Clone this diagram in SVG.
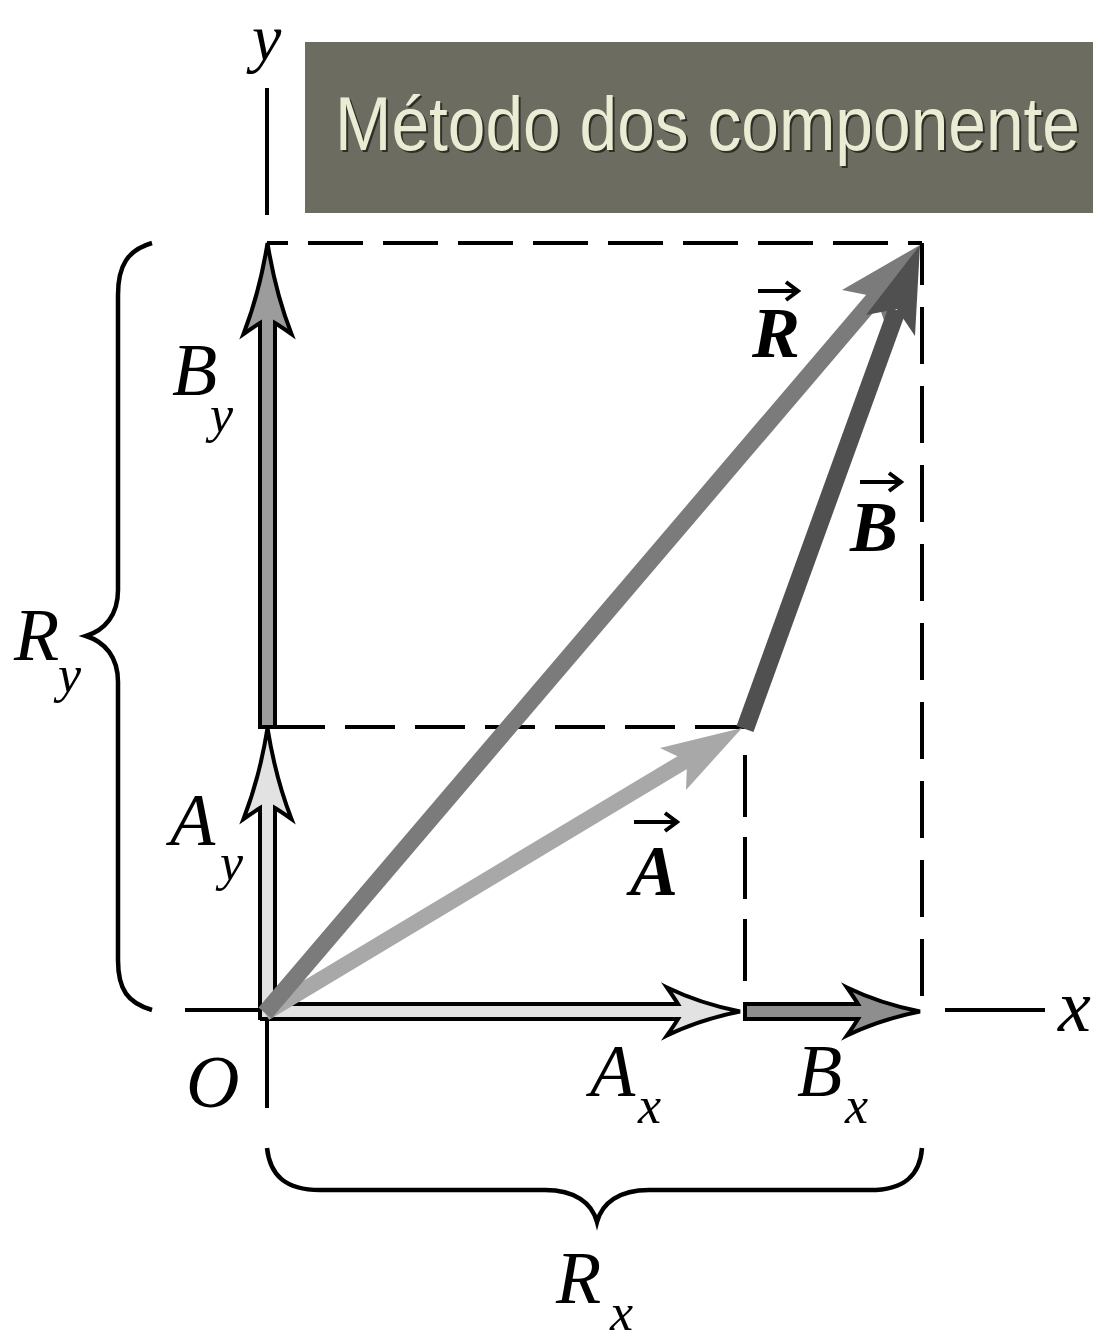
<svg xmlns="http://www.w3.org/2000/svg" width="1093" height="1337" viewBox="0 0 1093 1337">
<style>
.ax{stroke:#000;stroke-width:4;fill:none}
.dash{stroke:#000;stroke-width:4;fill:none}
.comp{stroke:#000;stroke-width:4;stroke-linejoin:miter}
.lbl{font-family:"Liberation Serif","Times New Roman",serif;font-style:italic;fill:#000}
.vl{font-family:"Liberation Serif","Times New Roman",serif;font-style:italic;font-weight:bold;fill:#000}
.brace{stroke:#000;stroke-width:4.5;fill:none}
.varrow{stroke:#000;stroke-width:4;fill:none}
</style>
<rect width="1093" height="1337" fill="#fff"/>

<g id="title">
<rect x="305" y="42" width="788" height="171" fill="#6c6d60"/>
<text x="337" y="152" font-family="'Liberation Sans',Arial,sans-serif" font-size="76" fill="#2e2f28" textLength="745" lengthAdjust="spacingAndGlyphs">Método dos componente</text>
<text x="335" y="150" font-family="'Liberation Sans',Arial,sans-serif" font-size="76" fill="#ecebd4" textLength="745" lengthAdjust="spacingAndGlyphs">Método dos componente</text>
</g>

<g id="connectors">
<line class="ax" x1="267" y1="88" x2="267" y2="215"/>
<line class="ax" x1="267" y1="1020" x2="267" y2="1108"/>
<line class="ax" x1="185" y1="1010" x2="260" y2="1010"/>
<line class="ax" x1="945" y1="1010" x2="1045" y2="1010"/>
<path class="dash" d="M 922 243 L 267 243" stroke-dasharray="55 20" stroke-dashoffset="41"/>
<path class="dash" d="M 922 243 L 922 1008" stroke-dasharray="57 22" stroke-dashoffset="15"/>
<path class="dash" d="M 275 727 L 745 727" stroke-dasharray="50 20"/>
<path class="dash" d="M 745 755 L 745 983" stroke-dasharray="62 20"/>
</g>

<g id="Ay">
<path class="comp" fill="#e2e2e2" transform="translate(267.5,728)" d="M -7.5 292 L -7.5 80 Q -14 84 -24 91 Q -8 50 0 0 Q 8 50 24 91 Q 14 84 7.5 80 L 7.5 275"/>
</g>
<g id="By">
<path class="comp" fill="#9c9c9c" transform="translate(267.5,243)" d="M -7.5 484 L -7.5 80 Q -14 84 -24 91 Q -8 50 0 0 Q 8 50 24 91 Q 14 84 7.5 80 L 7.5 484 Z"/>
</g>
<g id="Ax">
<path class="comp" fill="#e2e2e2" transform="translate(740,1011.5) rotate(90)" d="M -7.5 465 L -7.5 62 Q -14 66 -24 73 Q -8 40 0 0 Q 8 40 24 73 Q 14 66 7.5 62 L 7.5 480"/>
</g>
<g id="Bx">
<path class="comp" fill="#8e8e8e" transform="translate(920,1011.5) rotate(90)" d="M -7.5 175 L -7.5 62 Q -14 66 -24 73 Q -8 40 0 0 Q 8 40 24 73 Q 14 66 7.5 62 L 7.5 175 Z"/>
</g>

<g id="vecA">
<line x1="265" y1="1013" x2="690" y2="758" stroke="#a8a8a8" stroke-width="16"/>
<polygon points="742,728 686,790 687.1,760.8 660,748" fill="#a8a8a8"/>
</g>
<g id="vecR">
<line x1="265" y1="1013" x2="878" y2="294" stroke="#7b7b7b" stroke-width="17"/>
<polygon points="920,245 887,329 875.8,296.7 842,290" fill="#7b7b7b"/>
</g>
<g id="vecB">
<line x1="745" y1="729" x2="897" y2="310" stroke="#505050" stroke-width="18"/>
<polygon points="920,245 915,336 896.8,308.9 866,315" fill="#505050"/>
</g>

<g id="braces">
<path class="brace" d="M 152 243 C 128 250 118 265 118 295 L 118 590 C 118 615 105 630 86 636 C 105 642 118 657 118 682 L 118 960 C 118 990 128 1003 152 1010"/>
<path class="brace" d="M 267 1148 C 270 1175 285 1190 320 1190 L 545 1190 C 575 1190 592 1203 597 1222 C 602 1203 619 1190 649 1190 L 870 1190 C 905 1190 920 1175 922 1148"/>
</g>

<g id="labels">
<text class="lbl" x="252" y="60" font-size="66">y</text>
<text class="lbl" x="1058" y="1031" font-size="74">x</text>
<text class="lbl" x="186" y="1107" font-size="74">O</text>
<text class="lbl" x="172" y="395" font-size="74">B</text>
<text class="lbl" x="210" y="432" font-size="52">y</text>
<text class="lbl" x="170" y="845" font-size="74">A</text>
<text class="lbl" x="220" y="880" font-size="52">y</text>
<text class="lbl" x="590" y="1096" font-size="74">A</text>
<text class="lbl" x="638" y="1123" font-size="52">x</text>
<text class="lbl" x="797" y="1096" font-size="74">B</text>
<text class="lbl" x="845" y="1123" font-size="52">x</text>
<text class="lbl" x="14" y="660" font-size="74">R</text>
<text class="lbl" x="58" y="692" font-size="52">y</text>
<text class="lbl" x="556" y="1303" font-size="74">R</text>
<text class="lbl" x="610" y="1330" font-size="52">x</text>
</g>

<g id="vector-labels">
<text class="vl" x="752" y="357" font-size="72">R</text>
<path class="varrow" d="M 758 291 L 798 291 M 786 282 L 798 291 L 786 300"/>
<text class="vl" x="850" y="551" font-size="72">B</text>
<path class="varrow" d="M 860 482 L 901 482 M 889 473 L 901 482 L 889 491"/>
<text class="vl" x="630" y="895" font-size="72">A</text>
<path class="varrow" d="M 634 822 L 677 822 M 665 813 L 677 822 L 665 831"/>
</g>
</svg>
